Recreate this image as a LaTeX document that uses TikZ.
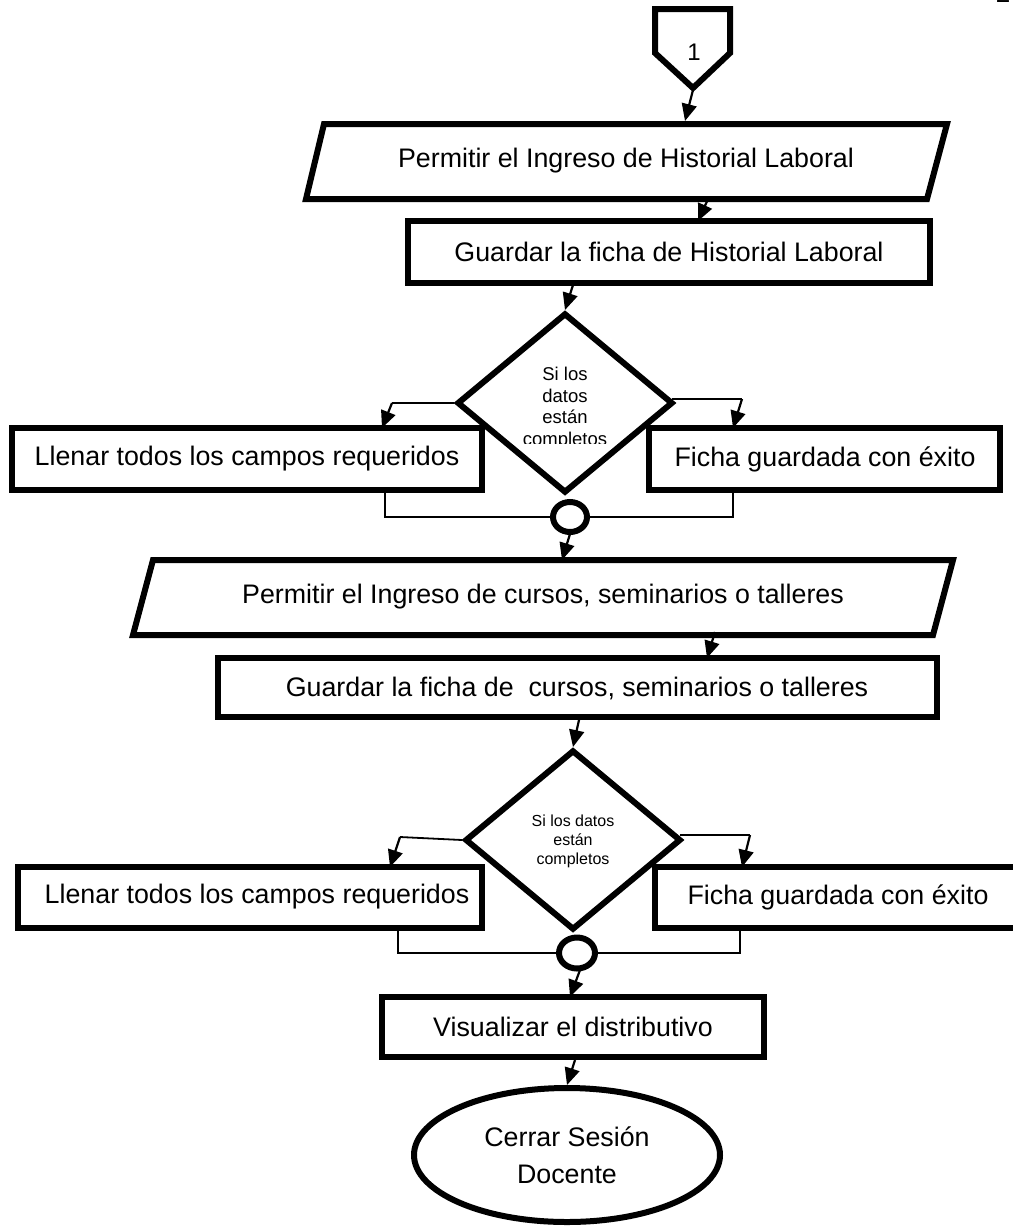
\documentclass[tikz,border=0pt]{standalone}
\usepackage{fontspec}
\setmainfont{Liberation Sans}
\usetikzlibrary{arrows.meta,shapes.geometric}
\begin{document}
\begin{tikzpicture}[x=1pt,y=-1pt,
  shapeline/.style={line width=6pt, line join=miter},
  txt/.style={inner sep=0pt, font=\fontsize{26.8}{32}\selectfont, align=center},
  conn/.style={line width=1.8pt},
  arr/.style={line width=2.2pt, -{Triangle[length=17pt,width=15pt]}},
  decision/.style={draw, diamond, line width=6pt, inner sep=0pt, minimum width=216pt, minimum height=180pt}
]
\useasboundingbox (0,0) rectangle (1012,1226);
% page number fragment
\node[anchor=base, inner sep=0pt, font=\fontsize{26}{30}\selectfont] (pg) at (1003,2.5) {2};

% off-page connector
\draw[shapeline] (655,9) -- (730,9) -- (730,53) -- (693,88) -- (655,53) -- cycle;
\node[inner sep=0pt, font=\fontsize{24}{28}\selectfont] (c1) at (694,52) {1};
\coordinate (c1out) at (693,90);

% parallelogram 1
\draw[shapeline] (324,124) -- (947,124) -- (927,199) -- (306,199) -- cycle;
\node[txt] (p1) at (626,161) {Permitir el Ingreso de Historial Laboral};
\coordinate (p1in) at (685,121);
\coordinate (p1out) at (709,197);
\draw[arr] (c1out) -- (p1in);

% rect 1
\draw[shapeline] (408,221) rectangle (930,283);
\node[txt] (r1) at (669,252) {Guardar la ficha de Historial Laboral};
\coordinate (r1in) at (698,221);
\coordinate (r1out) at (573,285);
\draw[arr] (p1out) -- (r1in);

% decision 1
\node[decision] (d1) at (565,403) {};
\begin{scope}
\clip (480,330) rectangle (650,443);
\node[inner sep=0pt, font=\fontsize{18.5}{21.5}\selectfont, align=center, anchor=north] (d1t) at (565,367) {Si los\\datos\\están\\completos};
\end{scope}
\draw[arr] (r1out) -- (d1.north);

% branch boxes 1
\draw[shapeline] (12,428) rectangle (482,490);
\node[txt] (l1) at (247,459) {Llenar todos los campos requeridos};
\draw[shapeline] (649,428) rectangle (1000,490);
\node[txt] (f1) at (825,459) {Ficha guardada con éxito};
\coordinate (l1k) at (392,403);
\coordinate (l1in) at (382,428);
\coordinate (f1k) at (742,399);
\coordinate (f1in) at (733,428);
\draw[conn] (d1.west) -- (l1k);
\draw[arr] (l1k) -- (l1in);
\draw[conn] (672,399) -- (f1k);
\draw[arr] (f1k) -- (f1in);

% merge 1
\node[draw, ellipse, line width=6pt, minimum width=34pt, minimum height=30pt, inner sep=0pt] (m1) at (570,517) {};
\draw[conn] (385,490) |- (m1.west);
\draw[conn] (733,490) |- (m1.east);
\coordinate (m1out) at (570,534);
\coordinate (p2in) at (562,560);
\draw[arr] (m1out) -- (p2in);

% parallelogram 2
\draw[shapeline] (153,560) -- (953,560) -- (933,635) -- (133,635) -- cycle;
\node[txt] (p2) at (543,597) {Permitir el Ingreso de cursos, seminarios o talleres};
\coordinate (p2out) at (715,632);
\coordinate (r2in) at (707,658);
\draw[arr] (p2out) -- (r2in);

% rect 2
\draw[shapeline] (218,658) rectangle (937,717);
\node[txt] (r2) at (577,688) {Guardar la ficha de\ \ cursos, seminarios o talleres};
\coordinate (r2out) at (579,720);

% decision 2
\node[decision] (d2) at (573,840) {};
\node[inner sep=0pt, font=\fontsize{16}{19}\selectfont, align=center] (d2t) at (573,841) {Si los datos\\están\\completos};
\draw[arr] (r2out) -- (d2.north);

% branch boxes 2
\draw[shapeline] (18,867) rectangle (482,928);
\node[txt] (l2) at (257,897) {Llenar todos los campos requeridos};
\draw[shapeline] (1030,867) -- (655,867) -- (655,928) -- (1030,928);
\node[txt] (f2) at (838,897) {Ficha guardada con éxito};
\coordinate (l2k) at (400,837);
\coordinate (l2in) at (390,867);
\coordinate (f2k) at (750,835);
\coordinate (f2in) at (742,867);
\draw[conn] (d2.west) -- (l2k);
\draw[arr] (l2k) -- (l2in);
\draw[conn] (680,835) -- (f2k);
\draw[arr] (f2k) -- (f2in);

% merge 2
\node[draw, ellipse, line width=6pt, minimum width=36pt, minimum height=31pt, inner sep=0pt] (m2) at (577,953) {};
\draw[conn] (398,928) |- (m2.west);
\draw[conn] (740,928) |- (m2.east);
\coordinate (m2out) at (580,970);
\coordinate (r3in) at (570,997);
\draw[arr] (m2out) -- (r3in);

% rect 3
\draw[shapeline] (382,997) rectangle (764,1057);
\node[txt] (r3) at (573,1027) {Visualizar el distributivo};
\coordinate (r3out) at (575,1060);

% terminal
\node[draw, ellipse, line width=6pt, minimum width=306pt, minimum height=134pt, inner sep=0pt] (e1) at (567,1155) {};
\node[txt, align=center, font=\fontsize{26.8}{37}\selectfont] (e1t) at (567,1155) {Cerrar Sesión\\Docente};
\draw[arr] (r3out) -- (e1.north);
\end{tikzpicture}
\end{document}
